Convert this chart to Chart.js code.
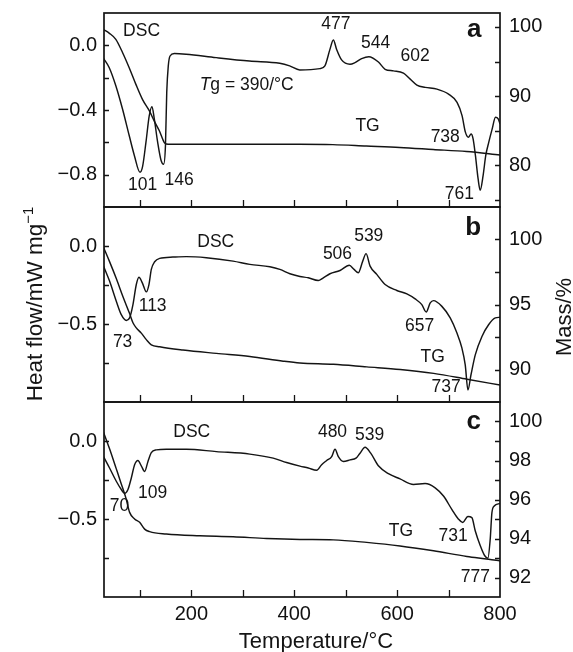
<!DOCTYPE html>
<html>
<head>
<meta charset="utf-8">
<script src="https://cdn.jsdelivr.net/npm/chart.js@4.4.1/dist/chart.umd.min.js"></script>
<style>
  body { margin: 0; background: #fff; }
  #wrap { position: relative; width: 573px; height: 652px; overflow: hidden; }
  #wrap canvas { position: absolute; left: 0; }
</style>
</head>
<body>
<div id="wrap">
  <canvas id="panelA" width="573" height="215" style="top:0px"></canvas>
  <canvas id="panelB" width="573" height="210" style="top:200px"></canvas>
  <canvas id="panelC" width="573" height="257" style="top:395px"></canvas>
</div>
<script>
// temperature ticks (shared by all panels)
var tempTicks = [100, 200, 300, 400, 500, 600, 700, 800];
var tempLabels = [200, 400, 600, 800];

// ---- panel a ----
var aDscTemp = [29, 40, 53, 66, 79, 89, 100, 105, 111.6, 118, 123.3, 127.8, 134.3, 141, 146, 149.5, 152, 155, 158.4, 166.8, 189.6, 248, 313, 371.7, 391, 410.7, 449.8, 459.5, 469.3, 476, 482.3, 492, 508.3, 518, 531, 545, 563.6, 576.6, 592.8, 612.3, 625.4, 638.4, 654.6, 677.4, 700, 716.5, 726.2, 732.7, 738.5, 743.8, 747.7, 752.2, 757.4, 761.5, 767.2, 772.3, 778.2, 784.8, 791.2, 796.5, 800];
var aDsc = [-0.08, -0.137, -0.25, -0.394, -0.558, -0.681, -0.785, -0.75, -0.599, -0.435, -0.379, -0.455, -0.599, -0.712, -0.735, -0.62, -0.291, -0.127, -0.066, -0.051, -0.055, -0.076, -0.097, -0.111, -0.127, -0.152, -0.144, -0.127, -0.025, 0.033, -0.025, -0.09, -0.117, -0.107, -0.082, -0.07, -0.103, -0.148, -0.158, -0.172, -0.209, -0.246, -0.26, -0.271, -0.302, -0.353, -0.435, -0.537, -0.568, -0.548, -0.578, -0.681, -0.825, -0.897, -0.804, -0.681, -0.599, -0.517, -0.445, -0.455, -0.486];
var aTgTemp = [29, 40, 53, 66, 79, 92, 105, 118, 127.8, 137.6, 147.3, 151, 160, 250, 350, 410, 475, 540, 605, 670, 735, 800];
var aTg = [99.6, 99.1, 98.2, 96.3, 94.1, 91.7, 89.5, 87.9, 86.4, 85.0, 83.3, 83.1, 83.05, 83.05, 83.05, 83.05, 83.0, 82.8, 82.6, 82.3, 82.0, 81.5];
var aDscTicks = [0, -0.2, -0.4, -0.6, -0.8];
var aDscLabels = [0, -0.4, -0.8];
var aTgTicks = [100, 95, 90, 85, 80, 75];
var aTgLabels = [100, 90, 80];

// ---- panel b ----
var bDscTemp = [29, 40.8, 53.9, 63.6, 73.4, 79.8, 86.3, 92.8, 97.9, 104.5, 112.3, 117.4, 122, 128.5, 138.2, 164, 190, 229, 281, 313.6, 352.5, 372, 391.5, 411, 427.2, 446.7, 456.4, 469.4, 488.9, 507, 516.2, 524.6, 533.1, 539.6, 547.4, 560.4, 576.6, 599.4, 618.9, 635, 648, 656.5, 664.3, 670.7, 687, 703.2, 716.3, 726, 732.4, 737.7, 743.5, 751.9, 764.9, 777.8, 790.9, 800];
var bDsc = [-0.129, -0.225, -0.354, -0.44, -0.477, -0.461, -0.376, -0.247, -0.2, -0.236, -0.294, -0.247, -0.15, -0.101, -0.079, -0.071, -0.068, -0.075, -0.097, -0.118, -0.133, -0.15, -0.178, -0.195, -0.204, -0.221, -0.204, -0.178, -0.157, -0.124, -0.15, -0.171, -0.097, -0.049, -0.129, -0.182, -0.247, -0.285, -0.307, -0.339, -0.376, -0.423, -0.365, -0.35, -0.387, -0.461, -0.558, -0.655, -0.762, -0.923, -0.827, -0.698, -0.58, -0.505, -0.461, -0.457];
var bTgTemp = [29, 40.8, 53.9, 66.9, 79.8, 86.3, 92.8, 102.5, 112.3, 122, 138.2, 183.6, 248.5, 313.6, 378.5, 411, 476, 541, 606, 671, 736, 800];
var bTg = [99.4, 98.3, 97.0, 95.6, 94.3, 93.6, 93.2, 92.8, 92.3, 91.9, 91.75, 91.5, 91.24, 91.0, 90.64, 90.5, 90.4, 90.2, 90.0, 89.7, 89.25, 88.8];
var bDscTicks = [0, -0.25, -0.5, -0.75];
var bDscLabels = [0, -0.5];
var bTgTicks = [100, 97.5, 95, 92.5, 90];
var bTgLabels = [100, 95, 90];

// ---- panel c ----
var cDscTemp = [29, 40.8, 53.9, 63.6, 70.1, 76.6, 83.1, 89.5, 96, 102.5, 109, 115.5, 122, 131.7, 151.2, 190.2, 248.5, 313.6, 359, 385, 411, 427.2, 443.5, 453.2, 463, 472.7, 479.2, 485.7, 495.4, 508.4, 520, 527.8, 537.6, 548.6, 563.5, 583, 605.7, 631.7, 654.4, 673.9, 690.1, 706.3, 719.3, 727.7, 737.5, 745.3, 751.8, 761.5, 770, 776.5, 781, 784.3, 788.8, 800];
var cDsc = [-0.1, -0.173, -0.258, -0.311, -0.336, -0.311, -0.237, -0.152, -0.125, -0.159, -0.195, -0.131, -0.074, -0.057, -0.053, -0.053, -0.068, -0.084, -0.11, -0.138, -0.161, -0.173, -0.188, -0.152, -0.125, -0.1, -0.053, -0.1, -0.131, -0.121, -0.11, -0.078, -0.04, -0.078, -0.159, -0.209, -0.243, -0.279, -0.273, -0.3, -0.353, -0.438, -0.501, -0.522, -0.484, -0.491, -0.575, -0.67, -0.734, -0.751, -0.628, -0.459, -0.417, -0.4];
var cTgTemp = [29, 40.8, 53.9, 63.6, 73.4, 79.8, 89.5, 99.3, 109, 118.8, 151.2, 216.2, 281.2, 346.1, 411, 476, 540.8, 605.7, 670.7, 735.6, 777.8, 800];
var cTg = [99.45, 98.6, 97.57, 96.8, 96.0, 95.34, 95.0, 94.83, 94.48, 94.35, 94.23, 94.14, 94.09, 94.0, 93.95, 93.93, 93.8, 93.62, 93.37, 93.08, 92.94, 92.85];
var cDscTicks = [0, -0.25, -0.5, -0.75];
var cDscLabels = [0, -0.5];
var cTgTicks = [100, 99, 98, 97, 96, 95, 94, 93, 92];
var cTgLabels = [100, 98, 96, 94, 92];

Chart.defaults.font.family = '"Liberation Sans", Arial, Helvetica, sans-serif';
Chart.defaults.color = '#111';

var INK = '#141414';
var MINUS = '\u2212';

function pts(xs, ys) {
    return xs.map(function (x, i) { return {x: x, y: ys[i]}; });
}
function has(list, v) {
    for (var i = 0; i < list.length; i++) {
        if (Math.abs(list[i] - v) < 1e-9) return true;
    }
    return false;
}
function asTicks(list) {
    return function (scale) {
        scale.ticks = list.map(function (v) { return {value: v}; });
    };
}

// writes a run of text pieces (italic / superscript pieces allowed)
function drawParts(ctx, parts, x, y, size, bold, align, baseline) {
    var fam = Chart.defaults.font.family;
    var fonts = parts.map(function (p) {
        var s = p.sup ? size * 0.66 : size;
        return (p.italic ? 'italic ' : '') + (bold ? 'bold ' : '') + s + 'px ' + fam;
    });
    var total = 0, widths = [];
    parts.forEach(function (p, i) {
        ctx.font = fonts[i];
        widths.push(ctx.measureText(p.t).width);
        total += widths[i];
    });
    var cx = align === 'left' ? x : x - total / 2;
    ctx.textAlign = 'left';
    ctx.textBaseline = baseline || 'middle';
    parts.forEach(function (p, i) {
        ctx.font = fonts[i];
        ctx.fillText(p.t, cx, p.sup ? y - size * 0.42 : y);
        cx += widths[i];
    });
}

// inward tick marks and the box round each panel
var framePlugin = {
    id: 'frame',
    afterDraw: function (chart) {
        var ctx = chart.ctx, a = chart.chartArea;
        var sx = chart.scales.x, sy = chart.scales.y, sy2 = chart.scales.y2;
        ctx.save();
        ctx.strokeStyle = INK;
        ctx.lineWidth = 1.3;
        ctx.beginPath();
        sx.ticks.forEach(function (t) {
            var px = Math.round(sx.getPixelForValue(t.value)) + 0.5;
            if (px <= a.left + 2 || px >= a.right - 2) return;
            ctx.moveTo(px, a.bottom); ctx.lineTo(px, a.bottom - 7);
        });
        sy.ticks.forEach(function (t) {
            var py = Math.round(sy.getPixelForValue(t.value)) + 0.5;
            if (py <= a.top + 2 || py >= a.bottom - 2) return;
            ctx.moveTo(a.left, py); ctx.lineTo(a.left + 5, py);
        });
        sy2.ticks.forEach(function (t) {
            var py = Math.round(sy2.getPixelForValue(t.value)) + 0.5;
            if (py <= a.top + 2 || py >= a.bottom - 2) return;
            ctx.moveTo(a.right, py); ctx.lineTo(a.right - 5, py);
        });
        ctx.stroke();
        ctx.lineWidth = 1.7;
        ctx.strokeRect(a.left, a.top, a.right - a.left, a.bottom - a.top);
        ctx.restore();
    }
};

// peak temperatures, curve names, panel letters, axis titles
var notesPlugin = {
    id: 'notes',
    afterDraw: function (chart, args, opts) {
        var ctx = chart.ctx;
        var sx = chart.scales.x, sy = chart.scales.y;
        ctx.save();
        ctx.fillStyle = INK;
        (opts.items || []).forEach(function (it) {
            var px = sx.getPixelForValue(it.x), py = sy.getPixelForValue(it.y);
            drawParts(ctx, it.parts || [{t: it.text}], px, py, it.size || 17.5, it.bold, it.align || 'center');
        });
        (opts.titles || []).forEach(function (t) {
            ctx.save();
            ctx.translate(t.px, t.py);
            if (t.rot) ctx.rotate(t.rot);
            drawParts(ctx, t.parts, 0, 0, t.size || 22, false, 'center', 'alphabetic');
            ctx.restore();
        });
        ctx.restore();
    }
};

function fmtDsc(v) {
    var s = v.toFixed(1);
    return v < 0 ? MINUS + s.substring(1) : s;
}

function makePanel(id, p) {
    return new Chart(document.getElementById(id), {
        type: 'line',
        data: {
            datasets: [
                {
                    label: 'DSC',
                    data: pts(p.dscTemp, p.dsc),
                    yAxisID: 'y',
                    borderColor: INK,
                    borderWidth: 1.45,
                    pointRadius: 0,
                    fill: false,
                    cubicInterpolationMode: 'monotone'
                },
                {
                    label: 'TG',
                    data: pts(p.tgTemp, p.tg),
                    yAxisID: 'y2',
                    borderColor: INK,
                    borderWidth: 1.45,
                    pointRadius: 0,
                    fill: false,
                    cubicInterpolationMode: 'monotone'
                }
            ]
        },
        options: {
            responsive: false,
            animation: false,
            events: [],
            layout: {padding: {top: p.padTop, bottom: p.padBottom, left: 0, right: 0}},
            plugins: {
                legend: {display: false},
                tooltip: {enabled: false},
                notes: {items: p.notes, titles: p.titles || []}
            },
            scales: {
                x: {
                    type: 'linear',
                    min: 30, max: 800,
                    afterBuildTicks: asTicks(tempTicks),
                    afterFit: function (s) { s.height = p.xHeight; s.paddingLeft = 0; s.paddingRight = 0; },
                    grid: {display: false, drawTicks: false},
                    border: {display: false},
                    ticks: {
                        display: p.showTemp,
                        autoSkip: false,
                        maxRotation: 0,
                        padding: 5,
                        font: {size: 20},
                        callback: function (v) { return has(tempLabels, v) ? String(v) : ''; }
                    }
                },
                y: {
                    type: 'linear',
                    position: 'left',
                    min: p.dscMin, max: p.dscMax,
                    afterBuildTicks: asTicks(p.dscTicks),
                    afterFit: function (s) { s.width = 104; s.paddingTop = 0; s.paddingBottom = 0; },
                    grid: {display: false, drawTicks: false},
                    border: {display: false},
                    ticks: {
                        autoSkip: false,
                        padding: 7,
                        font: {size: 20},
                        callback: function (v) { return has(p.dscLabels, v) ? fmtDsc(v) : ''; }
                    }
                },
                y2: {
                    type: 'linear',
                    position: 'right',
                    min: p.tgMin, max: p.tgMax,
                    afterBuildTicks: asTicks(p.tgTicks),
                    afterFit: function (s) { s.width = 73; s.paddingTop = 0; s.paddingBottom = 0; },
                    grid: {display: false, drawTicks: false},
                    border: {display: false},
                    ticks: {
                        autoSkip: false,
                        padding: 9,
                        font: {size: 20},
                        callback: function (v) { return has(p.tgLabels, v) ? String(v) : ''; }
                    }
                }
            }
        },
        plugins: [framePlugin, notesPlugin]
    });
}

makePanel('panelA', {
    dscTemp: aDscTemp, dsc: aDsc, tgTemp: aTgTemp, tg: aTg,
    dscMin: -1.0, dscMax: 0.2, tgMin: 74, tgMax: 102,
    dscTicks: aDscTicks, dscLabels: aDscLabels, tgTicks: aTgTicks, tgLabels: aTgLabels,
    padTop: 13, padBottom: 8, xHeight: 0, showTemp: false,
    notes: [
        {text: 'DSC', x: 103, y: 0.086},
        {parts: [{t: 'T', italic: true}, {t: 'g = 390/\u00b0C'}], x: 216, y: -0.245, align: 'left'},
        {text: '101', x: 105, y: -0.863},
        {text: '146', x: 176, y: -0.832},
        {text: '477', x: 481, y: 0.132},
        {text: '544', x: 558, y: 0.012},
        {text: '602', x: 635, y: -0.07},
        {text: 'TG', x: 542.5, y: -0.499},
        {text: '738', x: 693.5, y: -0.569},
        {text: '761', x: 720.8, y: -0.918},
        {text: 'a', x: 750, y: 0.098, bold: true, size: 26}
    ]
});

makePanel('panelB', {
    dscTemp: bDscTemp, dsc: bDsc, tgTemp: bTgTemp, tg: bTg,
    dscMin: -1.0, dscMax: 0.25, tgMin: 87.5, tgMax: 102.5,
    dscTicks: bDscTicks, dscLabels: bDscLabels, tgTicks: bTgTicks, tgLabels: bTgLabels,
    padTop: 7, padBottom: 8, xHeight: 0, showTemp: false,
    notes: [
        {text: 'DSC', x: 247.3, y: 0.024},
        {text: '113', x: 124.6, y: -0.387},
        {text: '73', x: 66.2, y: -0.614},
        {text: '506', x: 484, y: -0.053},
        {text: '539', x: 544.8, y: 0.064},
        {text: '657', x: 643.8, y: -0.515},
        {text: 'TG', x: 669, y: -0.714},
        {text: '737', x: 695.4, y: -0.902},
        {text: 'b', x: 748, y: 0.114, bold: true, size: 26}
    ],
    titles: [
        {parts: [{t: 'Heat flow/mW mg'}, {t: MINUS + '1', sup: true}], px: 42, py: 104, rot: -Math.PI / 2, size: 22.5},
        {parts: [{t: 'Mass/%'}], px: 571, py: 117, rot: -Math.PI / 2}
    ]
});

makePanel('panelC', {
    dscTemp: cDscTemp, dsc: cDsc, tgTemp: cTgTemp, tg: cTg,
    dscMin: -1.0, dscMax: 0.25, tgMin: 91, tgMax: 101,
    dscTicks: cDscTicks, dscLabels: cDscLabels, tgTicks: cTgTicks, tgLabels: cTgLabels,
    padTop: 7, padBottom: 0, xHeight: 55, showTemp: true,
    notes: [
        {text: 'DSC', x: 200.6, y: 0.059},
        {text: '109', x: 124.6, y: -0.336},
        {text: '70', x: 60.3, y: -0.417},
        {text: '480', x: 474.3, y: 0.059},
        {text: '539', x: 546.4, y: 0.038},
        {text: 'TG', x: 607.2, y: -0.576},
        {text: '731', x: 709, y: -0.607},
        {text: '777', x: 752, y: -0.871},
        {text: 'c', x: 749, y: 0.123, bold: true, size: 26}
    ],
    titles: [
        {parts: [{t: 'Temperature/\u00b0C'}], px: 316, py: 253}
    ]
});
</script>
</body>
</html>
